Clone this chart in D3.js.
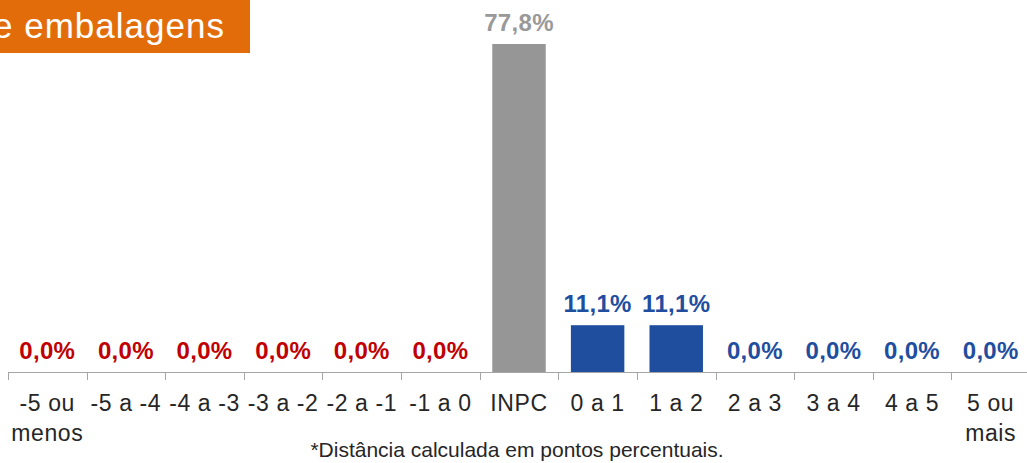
<!DOCTYPE html>
<html>
<head>
<meta charset="utf-8">
<script src="https://cdn.jsdelivr.net/npm/d3@7"></script>
<style>
  body { margin: 0; background: #fff; }
  svg { display: block; font-family: "Liberation Sans", Arial, sans-serif; }
</style>
</head>
<body>
<div id="chart"></div>
<script>
// categories (distance from INPC, in p.p.) and shares
const categories = ["-5 ou menos", "-5 a -4", "-4 a -3", "-3 a -2", "-2 a -1", "-1 a 0",
  "INPC", "0 a 1", "1 a 2", "2 a 3", "3 a 4", "4 a 5", "5 ou mais"];
const values = [0, 0, 0, 0, 0, 0, 77.8, 11.1, 11.1, 0, 0, 0, 0];
const groups = ["neg", "neg", "neg", "neg", "neg", "neg", "inpc", "pos", "pos", "pos", "pos", "pos", "pos"];
const title = "e embalagens";
const note = "*Distância calculada em pontos percentuais.";

const width = 1027, height = 463;
const colors = { neg: "#C00000", inpc: "#969696", pos: "#1F4E9F" };
const labelColors = { neg: "#C00000", inpc: "#999999", pos: "#1F4E9F" };

const svg = d3.select("#chart").append("svg")
  .attr("width", width)
  .attr("height", height);

const x = d3.scaleBand()
  .domain(categories)
  .range([8, 1030])
  .paddingInner(0.32)
  .paddingOuter(0.16);

const y = d3.scaleLinear()
  .domain([0, 77.8])
  .range([372, 44]);

const fmt = v => d3.format(".1f")(v).replace(".", ",") + "%";

// bars
svg.selectAll(".bar")
  .data(values)
  .enter().append("rect")
  .attr("class", "bar")
  .attr("x", (d, i) => x(categories[i]))
  .attr("y", d => y(d))
  .attr("width", x.bandwidth())
  .attr("height", d => y(0) - y(d))
  .attr("fill", (d, i) => colors[groups[i]]);

// axis line and ticks
const step = x.step();
svg.append("line")
  .attr("x1", 8).attr("x2", width)
  .attr("y1", y(0) + 0.5).attr("y2", y(0) + 0.5)
  .attr("stroke", "#A6A6A6").attr("stroke-width", 1);

svg.selectAll(".tick")
  .data(d3.range(categories.length + 1))
  .enter().append("line")
  .attr("x1", i => Math.round(8 + i * step) + 0.5)
  .attr("x2", i => Math.round(8 + i * step) + 0.5)
  .attr("y1", y(0)).attr("y2", y(0) + 8)
  .attr("stroke", "#A6A6A6");

// value labels
svg.selectAll(".vlabel")
  .data(values)
  .enter().append("text")
  .attr("x", (d, i) => x(categories[i]) + x.bandwidth() / 2)
  .attr("y", d => y(d) - 13)
  .attr("text-anchor", "middle")
  .attr("font-size", "24px")
  .attr("font-weight", "bold")
  .attr("letter-spacing", "0.3px")
  .attr("fill", (d, i) => labelColors[groups[i]])
  .text(d => fmt(d));

// category labels (wrapped)
const cat = svg.selectAll(".cat")
  .data(categories)
  .enter().append("text")
  .attr("text-anchor", "middle")
  .attr("font-size", "23px")
  .attr("letter-spacing", "0.6px")
  .attr("fill", "#262626");

cat.each(function(d) {
  const t = d3.select(this);
  const cx = x(d) + x.bandwidth() / 2;
  let lines = [d];
  if (d === "-5 ou menos") lines = ["-5 ou", "menos"];
  if (d === "5 ou mais") lines = ["5 ou", "mais"];
  lines.forEach((l, j) => {
    t.append("tspan")
      .attr("x", cx)
      .attr("y", 411 + j * 30)
      .text(l);
  });
});

// footnote
svg.append("text")
  .attr("x", 517)
  .attr("y", 457)
  .attr("text-anchor", "middle")
  .attr("font-size", "21px")
  .attr("fill", "#262626")
  .text(note);

// title box
svg.append("rect")
  .attr("x", 0).attr("y", 0)
  .attr("width", 250).attr("height", 53)
  .attr("fill", "#E36C0A");

svg.append("text")
  .attr("x", -7)
  .attr("y", 38)
  .attr("font-size", "35px")
  .attr("letter-spacing", "1px")
  .attr("fill", "#fff")
  .text(title);
</script>
</body>
</html>
